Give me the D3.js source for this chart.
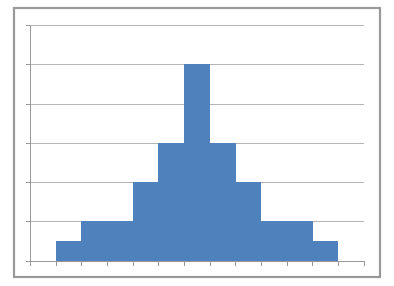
<!DOCTYPE html>
<html>
<head>
<meta charset="utf-8">
<script src="https://cdn.jsdelivr.net/npm/d3@7"></script>
<style>
  body { margin: 0; background: #fff; }
  svg { display: block; }
</style>
</head>
<body>
<div id="container"></div>
<script>
'use strict'

// histogram bins (no labels shown on the chart)
const bins = ['1', '2', '3', '4', '5', '6', '7', '8', '9', '10', '11', '12', '13'];
const counts = [0, 0.5, 1, 1, 2, 3, 5, 3, 2, 1, 1, 0.5, 0];
const yTicks = [0, 1, 2, 3, 4, 5, 6];

const w = 394;
const h = 286;
const plotLeft = 30, plotRight = 363.5, plotTop = 25, plotBottom = 260.5;

const svg = d3.select('#container')
  .append('svg')
  .attr('width', w)
  .attr('height', h);

// outer chart frame
svg.append('rect')
  .attr('x', 14).attr('y', 8)
  .attr('width', 366).attr('height', 269)
  .attr('fill', '#fff')
  .attr('stroke', '#999')
  .attr('stroke-width', 2.2);

const xScale = d3.scaleBand()
  .domain(bins)
  .range([plotLeft, plotRight])
  .padding(0);

const yScale = d3.scaleLinear()
  .domain([0, d3.max(yTicks)])
  .range([plotBottom, plotTop]);

// gridlines
svg.append('g')
  .attr('transform', 'translate(' + plotLeft + ',0)')
  .call(d3.axisLeft(yScale).tickValues(yTicks.slice(1)).tickSize(-(plotRight - plotLeft)).tickFormat(''))
  .call(g => g.select('.domain').remove())
  .call(g => g.selectAll('line').attr('stroke', '#b5b5b5').attr('shape-rendering', 'crispEdges'));

// bars
svg.selectAll('rect.bar')
  .data(counts)
  .enter()
  .append('rect')
  .attr('class', 'bar')
  .attr('x', (d, i) => xScale(bins[i]))
  .attr('y', d => yScale(d))
  .attr('width', xScale.bandwidth() + 0.5)
  .attr('height', d => plotBottom - yScale(d))
  .attr('fill', '#4f81bd')
  .attr('shape-rendering', 'crispEdges');

// y axis
svg.append('g')
  .attr('transform', 'translate(' + plotLeft + ',0)')
  .call(d3.axisLeft(yScale).tickValues(yTicks).tickSize(4).tickFormat(''))
  .call(g => g.selectAll('line, path').attr('stroke', '#999').attr('shape-rendering', 'crispEdges'));

// x axis: ticks on bin edges
const edgeScale = d3.scaleLinear()
  .domain([0, bins.length])
  .range([plotLeft, plotRight]);

svg.append('g')
  .attr('transform', 'translate(0,' + plotBottom + ')')
  .call(d3.axisBottom(edgeScale).tickValues(d3.range(bins.length + 1)).tickSizeInner(5).tickSizeOuter(0).tickFormat(''))
  .call(g => g.selectAll('line, path').attr('stroke', '#999').attr('shape-rendering', 'crispEdges'));
</script>
</body>
</html>
